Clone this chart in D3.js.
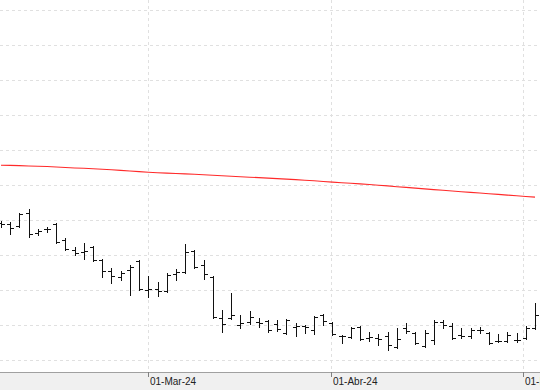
<!DOCTYPE html>
<html>
<head>
<meta charset="utf-8">
<script src="https://cdn.jsdelivr.net/npm/d3@7/dist/d3.min.js"></script>
<style>
  html, body { margin: 0; padding: 0; background: #ffffff; }
  svg { display: block; }
</style>
</head>
<body>
<svg id="chart" width="540" height="390"></svg>
<script>
const dates = ["2024-02-08","2024-02-09","2024-02-12","2024-02-13","2024-02-14","2024-02-15","2024-02-16","2024-02-19","2024-02-20","2024-02-21","2024-02-22","2024-02-23","2024-02-26","2024-02-27","2024-02-28","2024-02-29",
"2024-03-01","2024-03-04","2024-03-05","2024-03-06","2024-03-07","2024-03-08","2024-03-11","2024-03-12","2024-03-13","2024-03-14","2024-03-15","2024-03-18","2024-03-19","2024-03-20","2024-03-21","2024-03-22","2024-03-25","2024-03-26","2024-03-27","2024-03-28",
"2024-04-02","2024-04-03","2024-04-04","2024-04-05","2024-04-08","2024-04-09","2024-04-10","2024-04-11","2024-04-12","2024-04-15","2024-04-16","2024-04-17","2024-04-18","2024-04-19","2024-04-22","2024-04-23","2024-04-24","2024-04-25","2024-04-26","2024-04-29","2024-04-30",
"2024-05-02","2024-05-03"];

const open = [3.77,3.76,3.74,3.87,3.67,3.71,3.76,3.60,3.50,3.48,3.53,3.40,3.29,3.23,3.30,3.39,
3.10,3.11,3.09,3.26,3.28,3.49,3.35,3.23,2.82,2.82,2.75,2.78,2.78,2.79,2.76,2.67,2.73,2.74,2.70,2.85,
2.77,2.64,2.63,2.73,2.62,2.62,2.64,2.53,2.72,2.67,2.54,2.60,2.78,2.74,2.65,2.64,2.70,2.67,2.59,2.59,2.60,
2.62,2.72];
const high = [3.79,3.78,3.87,3.91,3.71,3.73,3.77,3.62,3.53,3.57,3.54,3.41,3.32,3.29,3.35,3.40,
3.24,3.18,3.27,3.31,3.56,3.50,3.40,3.24,2.90,3.07,2.85,2.89,2.82,2.80,2.80,2.81,2.77,2.75,2.84,2.86,
2.78,2.65,2.73,2.74,2.68,2.66,2.68,2.72,2.77,2.68,2.70,2.80,2.80,2.77,2.72,2.72,2.73,2.68,2.66,2.68,2.67,
2.74,2.97];
const low = [3.73,3.66,3.73,3.63,3.65,3.68,3.57,3.50,3.45,3.41,3.39,3.23,3.17,3.20,3.05,3.10,
3.03,3.04,3.08,3.20,3.27,3.32,3.21,2.82,2.68,2.81,2.72,2.76,2.73,2.68,2.69,2.66,2.64,2.67,2.66,2.75,
2.65,2.57,2.62,2.60,2.59,2.55,2.50,2.52,2.67,2.56,2.53,2.56,2.72,2.61,2.62,2.62,2.67,2.56,2.58,2.58,2.58,
2.61,2.71];
const close = [3.76,3.72,3.86,3.66,3.69,3.71,3.58,3.51,3.47,3.49,3.40,3.29,3.24,3.27,3.33,3.11,
3.11,3.09,3.25,3.28,3.48,3.33,3.26,2.83,2.76,2.85,2.77,2.83,2.77,2.70,2.71,2.80,2.74,2.73,2.83,2.79,
2.66,2.64,2.72,2.61,2.63,2.61,2.55,2.61,2.69,2.57,2.67,2.78,2.75,2.62,2.64,2.70,2.70,2.57,2.59,2.65,2.60,
2.72,2.85];
const movingAvg = [4.347,4.346,4.344,4.340,4.338,4.335,4.330,4.325,4.320,4.317,4.312,4.307,4.302,4.296,4.290,4.284,
4.278,4.273,4.269,4.265,4.261,4.257,4.252,4.247,4.242,4.237,4.232,4.228,4.224,4.219,4.214,4.209,4.204,4.198,4.192,4.185,
4.179,4.173,4.167,4.161,4.155,4.148,4.141,4.133,4.126,4.119,4.111,4.104,4.097,4.090,4.083,4.076,4.070,4.063,4.056,4.049,4.042,
4.035,4.029];

const gridValues = [2.40,2.75,3.10,3.45,3.80,4.15,4.50,4.85,5.20,5.55,5.90];
const monthTickPos = [16, 35.85, 56.7];
const monthTickLabels = ["01-Mar-24","01-Abr-24","01-May-24"];

const W = 540, H = 390, axisY = 372;
const svg = d3.select("#chart");

const x = d3.scaleLinear().domain([0, dates.length - 1]).range([1, 535]);
const y = d3.scaleLinear().domain([6.0, 2.28]).range([0, axisY]);
const px = v => Math.round(v) + 0.5;

// bottom band
svg.append("rect").attr("x", 0).attr("y", axisY).attr("width", W).attr("height", H - axisY).attr("fill", "#f0f0f0");

// horizontal grid
svg.append("g").selectAll("line").data(gridValues).join("line")
  .attr("x1", 0).attr("x2", W)
  .attr("y1", d => px(y(d))).attr("y2", d => px(y(d)))
  .attr("stroke", "#e0e0e0").attr("stroke-width", 1).attr("stroke-dasharray", "3,3");

// vertical grid
svg.append("g").selectAll("line").data(monthTickPos).join("line")
  .attr("x1", d => px(x(d))).attr("x2", d => px(x(d)))
  .attr("y1", 0).attr("y2", axisY)
  .attr("stroke", "#e0e0e0").attr("stroke-width", 1).attr("stroke-dasharray", "3,3");

// moving average
const maLine = d3.line().x((d, i) => x(i)).y(d => y(d));
svg.append("path").datum(movingAvg).attr("d", maLine)
  .attr("fill", "none").attr("stroke", "#ff2a2a").attr("stroke-width", 1.1);

// OHLC bars
const bars = svg.append("g").attr("stroke", "#111").attr("stroke-width", 1).attr("shape-rendering", "crispEdges");
dates.forEach((d, i) => {
  const cx = px(x(i));
  bars.append("line").attr("x1", cx).attr("x2", cx).attr("y1", Math.round(y(high[i]))).attr("y2", Math.round(y(low[i])) + 1);
  bars.append("line").attr("x1", cx - 3.5).attr("x2", cx).attr("y1", px(y(open[i]))).attr("y2", px(y(open[i])));
  bars.append("line").attr("x1", cx).attr("x2", cx + 3.5).attr("y1", px(y(close[i]))).attr("y2", px(y(close[i])));
});

// axis
svg.append("line").attr("x1", 0).attr("x2", W).attr("y1", axisY + 0.5).attr("y2", axisY + 0.5)
  .attr("stroke", "#a0a0a0").attr("stroke-width", 1);

const axis = d3.axisBottom(x).tickValues(monthTickPos)
  .tickFormat((d, i) => monthTickLabels[i]).tickSize(5).tickPadding(2);
const gAxis = svg.append("g").attr("transform", `translate(0,${axisY})`).call(axis);
gAxis.select(".domain").remove();
gAxis.selectAll(".tick line").attr("stroke", "#808080").attr("transform", "translate(0.5,0)");
gAxis.selectAll(".tick").attr("transform", d => `translate(${Math.round(x(d))},0)`);
gAxis.selectAll(".tick text")
  .attr("text-anchor", "start").attr("x", 2).attr("y", 6).attr("dy", "0.71em")
  .attr("fill", "#222").style("font-family", "'Segoe UI', 'Liberation Sans', Arial, sans-serif").style("font-size", "10px");
</script>
</body>
</html>
